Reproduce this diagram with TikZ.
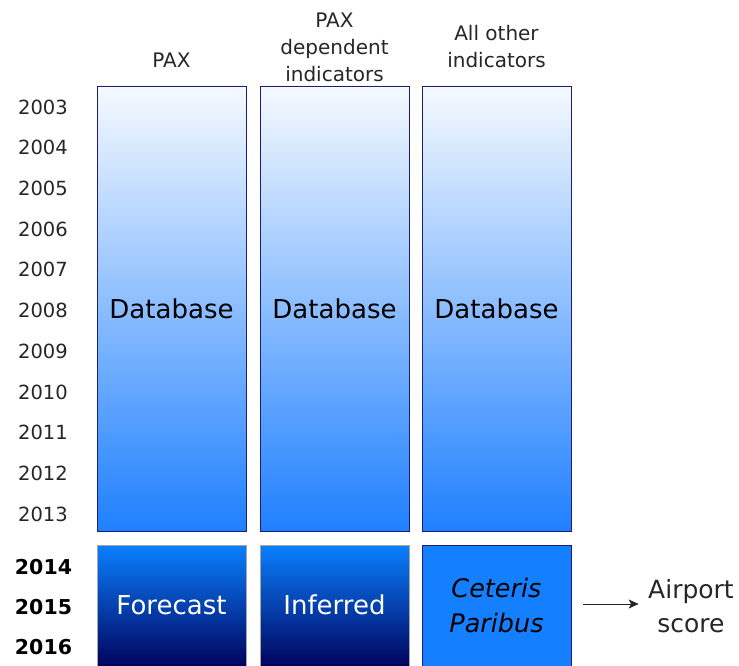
\documentclass[tikz,border=0pt]{standalone}
\usepackage{fontspec}
\setmainfont{DejaVu Sans}
\usetikzlibrary{arrows.meta}
\definecolor{navy}{HTML}{1C1C7A}
\definecolor{skytop}{HTML}{F6FAFF}
\definecolor{skybot}{HTML}{1F80FF}
\definecolor{deeptop}{HTML}{0A80FF}
\definecolor{deepbot}{HTML}{00005A}
\definecolor{flatblue}{HTML}{1480FF}
\definecolor{txt}{HTML}{262626}
\tikzset{
  dbbox/.style={draw=navy, line width=0.9pt, top color=skytop, bottom color=skybot, minimum width=149pt, minimum height=445pt, inner sep=0pt},
  fcbox/.style={draw=gray!70, line width=0.9pt, top color=deeptop, bottom color=deepbot, minimum width=149pt, minimum height=124pt, inner sep=0pt},
  cpbox/.style={draw=navy, line width=0.9pt, fill=flatblue, minimum width=149pt, minimum height=124pt, inner sep=0pt},
  yr/.style={font=\fontsize{19.5pt}{22pt}\selectfont, text=txt},
  yrb/.style={font=\fontsize{20.5pt}{22pt}\selectfont\bfseries, text=black},
  head/.style={font=\fontsize{20pt}{27pt}\selectfont, text=txt, align=center},
  big/.style={font=\fontsize{26pt}{30pt}\selectfont},
}
\begin{document}
\begin{tikzpicture}[x=1pt,y=-1pt]
\useasboundingbox (0,0) rectangle (739,666);
% database columns
\node[dbbox] (c1) at (171.5,308.5) {};
\node[dbbox] (c2) at (334.5,308.5) {};
\node[dbbox] (c3) at (496.5,308.5) {};
\node[big, text=black] at (c1) {Database};
\node[big, text=black] at (c2) {Database};
\node[big, text=black] at (c3) {Database};
% forecast row
\node[fcbox] (f1) at (171.5,607) {};
\node[fcbox] (f2) at (334.5,607) {};
\node[cpbox] (f3) at (496.5,607) {};
\node[big, text=white] at (171.5,605) {Forecast};
\node[big, text=white] at (334.5,605) {Inferred};
% multi-line nodes: base anchor sits on the last line
\node[big, text=black, align=center, font=\fontsize{25.5pt}{35pt}\selectfont\itshape, anchor=base] (cp) at (496.5,632) {Ceteris\\Paribus};
% headers
\node[head, anchor=base] (h1) at (171.5,68) {PAX};
\node[head, anchor=base] (h2) at (334.5,82) {PAX\\dependent\\indicators};
\node[head, anchor=base] (h3) at (496.5,68) {All other\\indicators};
% years
\foreach \y [count=\i from 0] in {2003,...,2013}
  \node[yr] (y\y) at (43,107+40.7*\i) {\y};
\node[yrb] (y2014) at (43.5,567) {2014};
\node[yrb] (y2015) at (43.5,607) {2015};
\node[yrb] (y2016) at (43.5,647) {2016};
% result
\node[head, font=\fontsize{25pt}{34pt}\selectfont, text=txt, anchor=base] (as) at (691,632) {Airport\\score};
\coordinate (a0) at (583,604);
\draw[-{Stealth[length=10pt,width=9pt,inset=2.5pt]}, line width=1pt, txt, shorten >=6pt] (a0) -- (a0 -| as.west);
\end{tikzpicture}
\end{document}
